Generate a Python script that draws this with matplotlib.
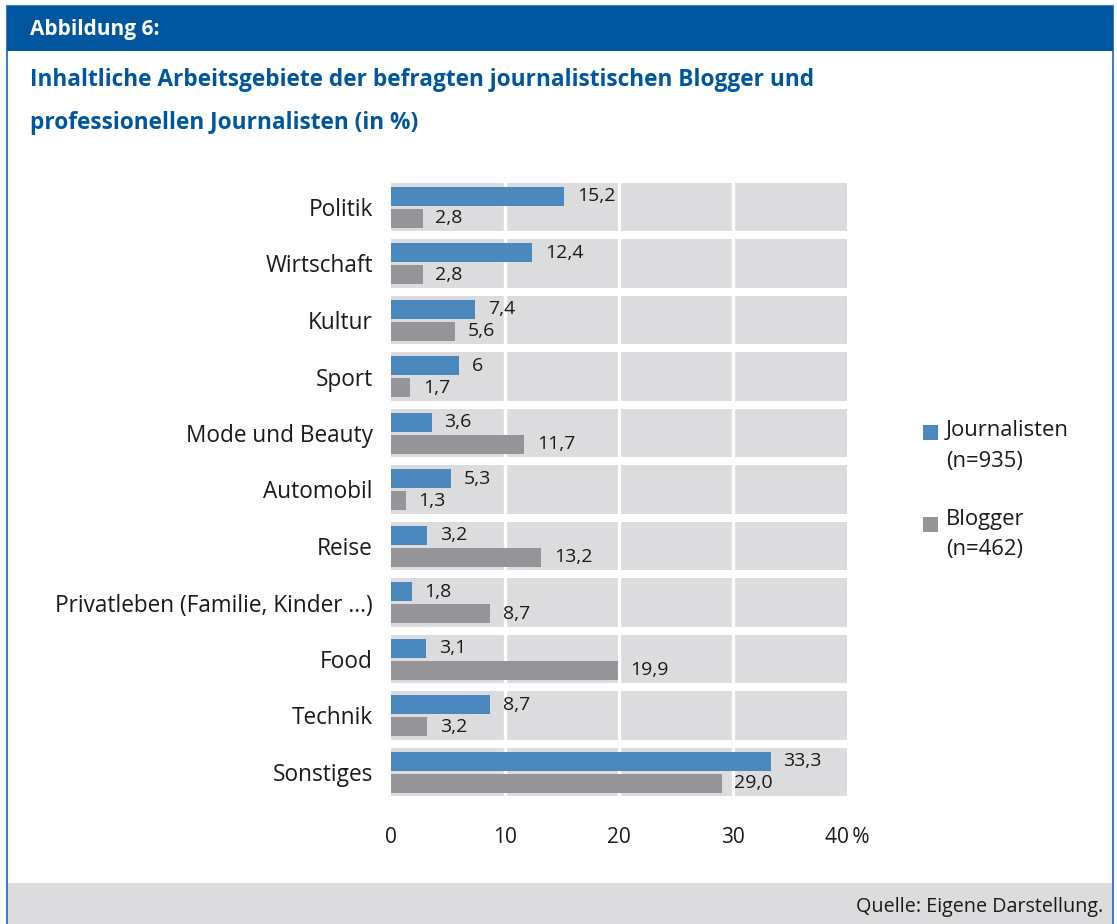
import matplotlib.pyplot as plt
from matplotlib.patches import Rectangle
import numpy as np

plt.rcParams["font.family"] = ["Open Sans", "DejaVu Sans"]

categories = [
    "Politik", "Wirtschaft", "Kultur", "Sport", "Mode und Beauty", "Automobil",
    "Reise", "Privatleben (Familie, Kinder ...)", "Food", "Technik", "Sonstiges",
]
journalisten = [15.2, 12.4, 7.4, 6.0, 3.6, 5.3, 3.2, 1.8, 3.1, 8.7, 33.3]
blogger = [2.8, 2.8, 5.6, 1.7, 11.7, 1.3, 13.2, 8.7, 19.9, 3.2, 29.0]
journalisten_labels = ["15,2", "12,4", "7,4", "6", "3,6", "5,3", "3,2", "1,8", "3,1", "8,7", "33,3"]
blogger_labels = ["2,8", "2,8", "5,6", "1,7", "11,7", "1,3", "13,2", "8,7", "19,9", "3,2", "29,0"]
xticks = [0, 10, 20, 30, 40]
xtick_labels = ["0", "10", "20", "30", "40\u2009%"]

W, H = 1117, 924
BLUE_HEAD = "#00569f"
BLUE_BAR = "#4a88be"
GRAY_BAR = "#959599"
BAND = "#dcdcde"
TEXT = "#1a1a1a"


def fx(x):
    return x / W


def fy(y):
    return 1 - y / H


fig = plt.figure(figsize=(W / 100, H / 100), dpi=100)

# frame, header and footer
fig.add_artist(Rectangle((fx(7), fy(924)), fx(1113) - fx(7), fy(6) - fy(924),
                         transform=fig.transFigure, facecolor="white",
                         edgecolor="#3d7fc0", linewidth=1.5, zorder=-10))
fig.add_artist(Rectangle((fx(7), fy(51)), fx(1113) - fx(7), fy(6) - fy(51),
                         transform=fig.transFigure, facecolor=BLUE_HEAD, edgecolor="none", zorder=-9))
fig.add_artist(Rectangle((fx(8), fy(924)), fx(1112) - fx(8), fy(883) - fy(924),
                         transform=fig.transFigure, facecolor=BAND, edgecolor="none", zorder=-9))

fig.text(fx(30), fy(29), "Abbildung 6:", color="white", fontsize=15,
         fontweight="bold", va="center", ha="left")
fig.text(fx(30), fy(80), "Inhaltliche Arbeitsgebiete der befragten journalistischen Blogger und",
         color=BLUE_HEAD, fontsize=16.3, fontweight="bold", va="center", ha="left")
fig.text(fx(30), fy(123), "professionellen Journalisten (in %)",
         color=BLUE_HEAD, fontsize=16.3, fontweight="bold", va="center", ha="left")
fig.text(fx(1103), fy(907), "Quelle: Eigene Darstellung.", color=TEXT, fontsize=14.2,
         va="center", ha="right")

# chart
ax = fig.add_axes([fx(391), fy(800.25), fx(847) - fx(391), fy(178.75) - fy(800.25)])
y = np.arange(len(categories))
ax.barh(y, [40] * len(categories), height=0.85, color=BAND, zorder=1)
for g in xticks[1:-1]:
    ax.axvline(g, color="white", linewidth=2.4, zorder=2)
ax.barh(y - 0.19, journalisten, height=0.34, color=BLUE_BAR, zorder=3)
ax.barh(y + 0.2, blogger, height=0.34, color=GRAY_BAR, zorder=3)

for i in range(len(categories)):
    ax.annotate(journalisten_labels[i], (journalisten[i], y[i] - 0.19), xytext=(9, 0),
                textcoords="offset points", va="center", ha="left", fontsize=14, color=TEXT)
    ax.annotate(blogger_labels[i], (blogger[i], y[i] + 0.2), xytext=(9, 0),
                textcoords="offset points", va="center", ha="left", fontsize=14, color=TEXT)

ax.set_xlim(0, 40)
ax.set_ylim(len(categories) - 0.5, -0.5)
ax.set_yticks(y)
ax.set_yticklabels(categories, fontsize=16.3, color=TEXT)
ax.set_xticks(xticks)
ax.set_xticklabels(xtick_labels, fontsize=15, color=TEXT)
ax.tick_params(axis="y", length=0, pad=13)
ax.tick_params(axis="x", length=0, pad=19)
for s in ax.spines.values():
    s.set_visible(False)
ax.set_facecolor("none")

# legend
fig.add_artist(Rectangle((fx(923), fy(440)), fx(15), fy(425) - fy(440),
                         transform=fig.transFigure, facecolor=BLUE_BAR, edgecolor="none"))
fig.add_artist(Rectangle((fx(923), fy(532)), fx(15), fy(517) - fy(532),
                         transform=fig.transFigure, facecolor=GRAY_BAR, edgecolor="none"))
fig.text(fx(946), fy(431), "Journalisten", fontsize=15.8, color=TEXT, va="center", ha="left")
fig.text(fx(946), fy(462), "(n=935)", fontsize=15.8, color=TEXT, va="center", ha="left")
fig.text(fx(946), fy(520), "Blogger", fontsize=15.8, color=TEXT, va="center", ha="left")
fig.text(fx(946), fy(549), "(n=462)", fontsize=15.8, color=TEXT, va="center", ha="left")

fig.savefig("out.png", dpi=100)
